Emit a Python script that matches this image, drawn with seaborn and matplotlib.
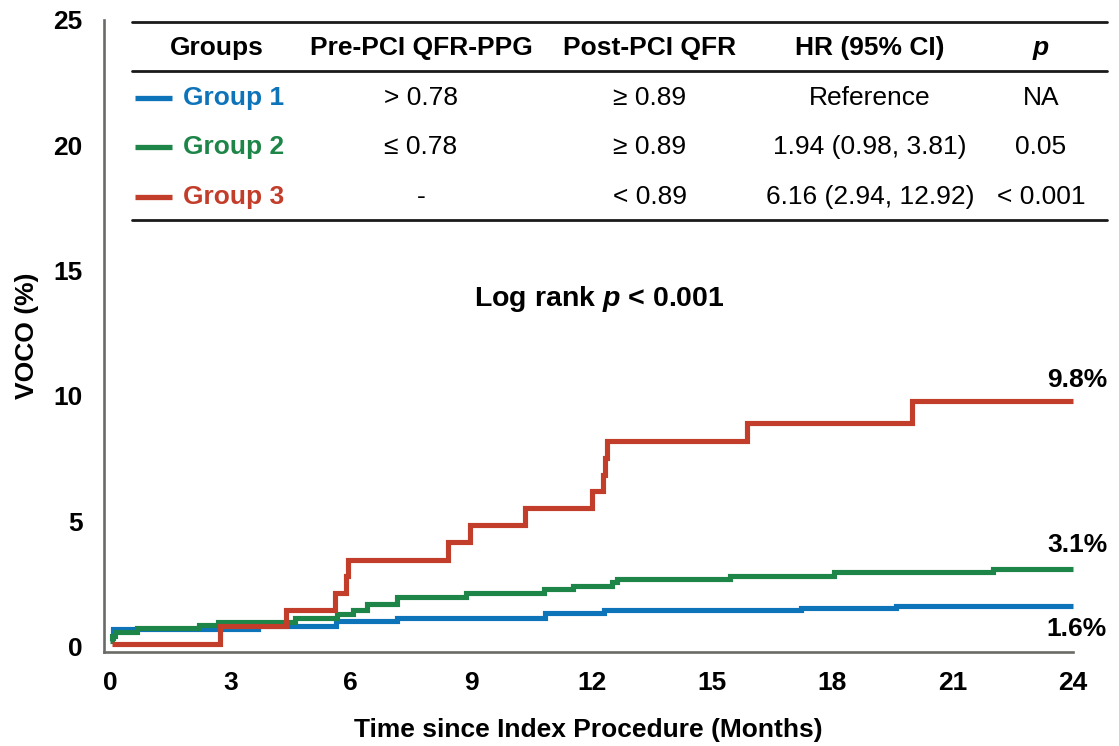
import matplotlib
matplotlib.use("Agg")
import matplotlib.pyplot as plt
from matplotlib.lines import Line2D
import numpy as np
import pandas as pd
import seaborn as sns

# ---- data: cumulative VOCO incidence (%) over follow-up (months) ----
groups = ["Group 1", "Group 2", "Group 3"]
colors = ["#0E74BA", "#1E8549", "#C23D2A"]

g1_time = [0.0, 0.08, 3.70, 5.63, 7.15, 10.85, 12.30, 17.21, 19.58, 24.0]
g1_voco = [0.35, 0.70, 0.80, 1.00, 1.14, 1.34, 1.47, 1.53, 1.60, 1.60]

g2_time = [0.0, 0.05, 0.12, 0.67, 2.22, 2.69, 4.60, 5.65, 6.06, 6.40, 7.15,
           8.86, 10.81, 11.55, 12.50, 12.63, 15.44, 18.04, 22.00, 24.0]
g2_voco = [0.20, 0.41, 0.58, 0.72, 0.85, 0.98, 1.12, 1.28, 1.45, 1.70, 1.98,
           2.12, 2.28, 2.42, 2.57, 2.71, 2.83, 2.99, 3.10, 3.10]

g3_time = [0.05, 2.75, 4.38, 5.60, 5.88, 5.93, 8.42, 8.98, 10.35, 12.00,
           12.28, 12.33, 12.38, 15.88, 19.98, 24.0]
g3_voco = [0.10, 0.80, 1.47, 2.15, 2.80, 3.47, 4.16, 4.86, 5.53, 6.19,
           6.86, 7.52, 8.21, 8.92, 9.80, 9.80]

final_labels = ["1.6%", "3.1%", "9.8%"]

# summary table
col_headers = ["Groups", "Pre-PCI QFR-PPG", "Post-PCI QFR", "HR (95% CI)", "p"]
pre_pci = ["> 0.78", "\u2264 0.78", "-"]
post_pci = ["\u2265 0.89", "\u2265 0.89", "< 0.89"]
hr_ci = ["Reference", "1.94 (0.98, 3.81)", "6.16 (2.94, 12.92)"]
p_vals = ["NA", "0.05", "< 0.001"]

x_ticks = list(range(0, 25, 3))
y_ticks = list(range(0, 26, 5))

df = pd.concat([
    pd.DataFrame({"time": t, "voco": v, "group": g})
    for t, v, g in zip([g1_time, g2_time, g3_time],
                       [g1_voco, g2_voco, g3_voco], groups)
], ignore_index=True)

# ---- style ----
sns.set_theme(style="white")
plt.rcParams["font.family"] = ["Liberation Sans", "DejaVu Sans"]
plt.rcParams["text.color"] = "black"
plt.rcParams["axes.labelcolor"] = "black"
plt.rcParams["mathtext.fontset"] = "custom"
plt.rcParams["mathtext.it"] = "Liberation Sans:italic:bold"
plt.rcParams["mathtext.rm"] = "Liberation Sans:bold"
plt.rcParams["mathtext.bf"] = "Liberation Sans:bold"

W, H = 1119, 746
FS = 19
spine_c = "#6A6A66"


def px(x, y):
    """pixel position (from top-left) -> figure fraction"""
    return x / W, 1 - y / H


fig = plt.figure(figsize=(W / 100, H / 100), dpi=100)
ax = fig.add_axes([104 / W, 1 - 652 / H, (1073 - 104) / W, (652 - 20) / H])

sns.lineplot(data=df, x="time", y="voco", hue="group", hue_order=groups,
             palette=colors, estimator=None, sort=False, drawstyle="steps-post",
             linewidth=3.7, legend=False, ax=ax)
for ln in ax.get_lines():
    ln.set_solid_joinstyle("miter")
    ln.set_solid_capstyle("butt")
    ln.set_clip_on(False)

ax.set_xlim(-0.15, 24)
ax.set_ylim(-0.22, 25)
ax.set_xticks(x_ticks)
ax.set_yticks(y_ticks)
ax.set_xticklabels([str(v) for v in x_ticks], fontsize=FS, fontweight="bold")
ax.set_yticklabels([str(v) for v in y_ticks], fontsize=FS, fontweight="bold")
ax.tick_params(axis="both", direction="out", length=5.5, width=1.8,
               color=spine_c, labelcolor="black")
ax.tick_params(axis="x", pad=8)
ax.tick_params(axis="y", pad=10)
sns.despine(ax=ax)
for s in ("left", "bottom"):
    ax.spines[s].set_color(spine_c)
    ax.spines[s].set_linewidth(1.9)

ax.set_xlabel("Time since Index Procedure (Months)", fontsize=FS,
              fontweight="bold", labelpad=17)
ax.set_ylabel("VOCO (%)", fontsize=FS, fontweight="bold", labelpad=10)

# end-of-follow-up percentages
label_offsets = [-0.9, 0.95, 0.83]
for vals, lab, off in zip([g1_voco, g2_voco, g3_voco], final_labels, label_offsets):
    ax.text(24.85, vals[-1] + off, lab, ha="right", va="center",
            fontsize=FS, fontweight="bold", clip_on=False)

fig.text(*px(599, 299), r"Log rank $p$ < 0.001", ha="center", va="center",
         fontsize=20.5, fontweight="bold")

# ---- summary table ----
for yy in (22, 71, 220):
    fig.add_artist(Line2D([132 / W, 1107 / W], [1 - yy / H] * 2,
                          transform=fig.transFigure, color="#1a1a1a", lw=2.0))

header_x = [217, 421, 650, 870, 1041]
row_y = [98, 147, 197]
for xh, txt in zip(header_x, col_headers):
    kw = dict(style="italic") if txt == "p" else {}
    fig.text(*px(xh, 48), txt, ha="center", va="center", fontsize=FS,
             fontweight="bold", **kw)

for i, yy in enumerate(row_y):
    fig.add_artist(Line2D([135 / W, 172 / W], [1 - yy / H] * 2,
                          transform=fig.transFigure, color=colors[i], lw=3.8,
                          solid_capstyle="butt"))
    fig.text(*px(183, yy), groups[i], ha="left", va="center", fontsize=FS,
             fontweight="bold", color=colors[i])
    for xc, col in zip(header_x[1:], [pre_pci, post_pci, hr_ci, p_vals]):
        fig.text(*px(xc, yy), col[i], ha="center", va="center", fontsize=FS)

fig.savefig("out.png", dpi=100)
